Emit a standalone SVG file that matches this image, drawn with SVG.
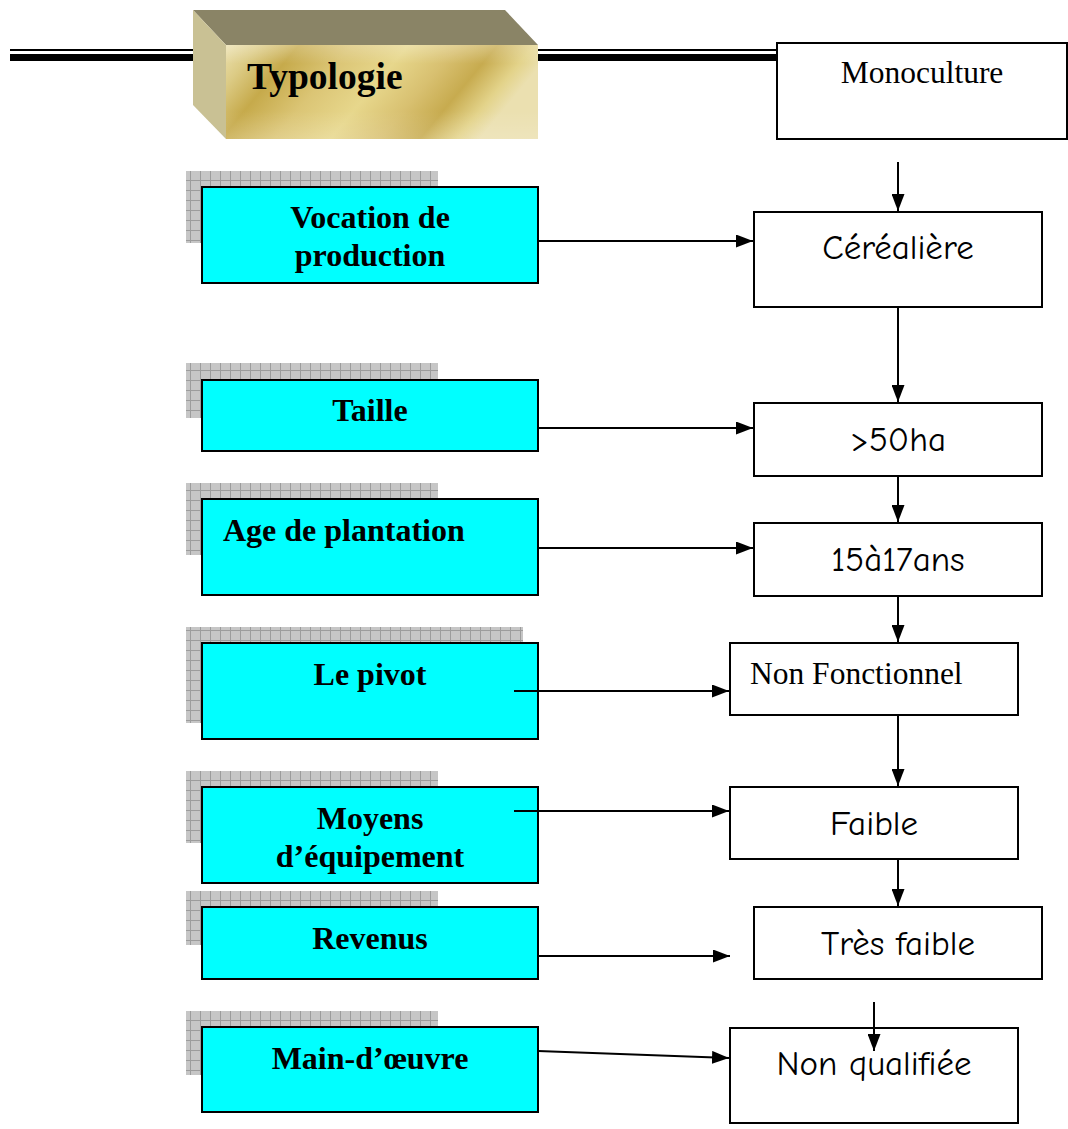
<svg xmlns="http://www.w3.org/2000/svg" width="1068" height="1129" viewBox="0 0 1068 1129">
  <style>
    .box { fill: #00ffff; stroke: #000; stroke-width: 2; }
    .val { fill: #fff; stroke: #000; stroke-width: 2; }
    .shadow { fill: url(#grid); }
    .lbl { font-family: "Liberation Serif", "Times New Roman", serif; font-weight: bold; font-size: 32px; fill: #000; }
    .serif { font-family: "Liberation Serif", "Times New Roman", serif; font-size: 31.5px; fill: #000; }
    .hand { font-family: "Comic Sans MS", "Comic Neue", "DejaVu Sans", sans-serif; font-size: 35px; fill: #000; }
    .link { stroke: #000; stroke-width: 2; fill: none; marker-end: url(#arrow); }
  </style>
  <defs>
    <pattern id="grid" width="10" height="10" patternUnits="userSpaceOnUse">
      <rect width="10" height="10" fill="#c6c6c6"/>
      <path d="M0 0.5H10M0.5 0V10" stroke="#9c9c9c" stroke-width="1"/>
    </pattern>
    <linearGradient id="gold" x1="0" y1="0" x2="1" y2="0.25">
      <stop offset="0" stop-color="#ebe0ad"/>
      <stop offset="0.1" stop-color="#dccb85"/>
      <stop offset="0.22" stop-color="#c6aa4b"/>
      <stop offset="0.38" stop-color="#dbc575"/>
      <stop offset="0.55" stop-color="#e7d78c"/>
      <stop offset="0.7" stop-color="#d8c070"/>
      <stop offset="0.82" stop-color="#c7ab4f"/>
      <stop offset="0.93" stop-color="#e3d38a"/>
      <stop offset="1" stop-color="#ebe0b0"/>
    </linearGradient>
    <linearGradient id="goldV" x1="0" y1="0" x2="0" y2="1">
      <stop offset="0" stop-color="#ffffff" stop-opacity="0.25"/>
      <stop offset="0.2" stop-color="#ffffff" stop-opacity="0"/>
      <stop offset="0.7" stop-color="#ffffff" stop-opacity="0"/>
      <stop offset="1" stop-color="#ffffff" stop-opacity="0.15"/>
    </linearGradient>
    <marker id="arrow" markerWidth="17" markerHeight="13" refX="17" refY="6.5" orient="auto" markerUnits="userSpaceOnUse">
      <path d="M0 0L17 6.5L0 13Z" fill="#000"/>
    </marker>
  </defs>

  <!-- header rule: thin line over thick line -->
  <g id="header-rule">
    <rect x="10" y="49" width="767" height="2" fill="#000"/>
    <rect x="10" y="54" width="767" height="7" fill="#000"/>
  </g>

  <!-- title block drawn as a 3D bar -->
  <g id="typologie">
    <polygon points="193,10 505,10 538,45 226,45" fill="#8a8466"/>
    <polygon points="193,10 226,45 226,139 193,105" fill="#c9c194"/>
    <rect x="226" y="45" width="312" height="94" fill="url(#gold)"/>
    <rect x="226" y="45" width="312" height="94" fill="url(#goldV)"/>
    <text x="247" y="89" font-family="Liberation Serif, Times New Roman, serif" font-weight="bold" font-size="37.5" fill="#000">Typologie</text>
  </g>

  <!-- criteria column -->
  <g id="vocation">
    <rect class="shadow" x="186" y="171" width="252" height="72"/>
    <rect class="box" x="202" y="187" width="336" height="96"/>
    <text class="lbl" x="370" y="228" text-anchor="middle">Vocation de</text>
    <text class="lbl" x="370" y="266" text-anchor="middle">production</text>
  </g>
  <g id="taille">
    <rect class="shadow" x="186" y="363" width="252" height="55"/>
    <rect class="box" x="202" y="380" width="336" height="71"/>
    <text class="lbl" x="370" y="421" text-anchor="middle">Taille</text>
  </g>
  <g id="age">
    <rect class="shadow" x="186" y="483" width="252" height="72"/>
    <rect class="box" x="202" y="499" width="336" height="96"/>
    <text class="lbl" x="223" y="541">Age de plantation</text>
  </g>
  <g id="pivot">
    <rect class="shadow" x="186" y="627" width="337" height="96"/>
    <rect class="box" x="202" y="643" width="336" height="96"/>
    <text class="lbl" x="370" y="685" text-anchor="middle">Le pivot</text>
  </g>
  <g id="moyens">
    <rect class="shadow" x="186" y="771" width="252" height="72"/>
    <rect class="box" x="202" y="787" width="336" height="96"/>
    <text class="lbl" x="370" y="829" text-anchor="middle">Moyens</text>
    <text class="lbl" x="370" y="867" text-anchor="middle">d’équipement</text>
  </g>
  <g id="revenus">
    <rect class="shadow" x="186" y="891" width="252" height="54"/>
    <rect class="box" x="202" y="907" width="336" height="72"/>
    <text class="lbl" x="370" y="949" text-anchor="middle">Revenus</text>
  </g>
  <g id="main-oeuvre">
    <rect class="shadow" x="186" y="1011" width="252" height="64"/>
    <rect class="box" x="202" y="1027" width="336" height="85"/>
    <text class="lbl" x="370" y="1069" text-anchor="middle">Main-d’œuvre</text>
  </g>

  <!-- values column -->
  <g id="monoculture">
    <rect class="val" x="777" y="43" width="290" height="96"/>
    <text class="serif" x="922" y="83" text-anchor="middle">Monoculture</text>
  </g>
  <g id="cerealiere">
    <rect class="val" x="754" y="212" width="288" height="95"/>
    <text class="hand" x="898" y="259" text-anchor="middle">Céréalière</text>
  </g>
  <g id="superficie">
    <rect class="val" x="754" y="403" width="288" height="73"/>
    <text class="hand" x="898" y="451" text-anchor="middle">&gt;50ha</text>
  </g>
  <g id="anciennete">
    <rect class="val" x="754" y="523" width="288" height="73"/>
    <text class="hand" x="898" y="571" text-anchor="middle">15à17ans</text>
  </g>
  <g id="non-fonctionnel">
    <rect class="val" x="730" y="643" width="288" height="72"/>
    <text class="serif" x="750" y="684">Non Fonctionnel</text>
  </g>
  <g id="faible">
    <rect class="val" x="730" y="787" width="288" height="72"/>
    <text class="hand" x="874" y="835" text-anchor="middle">Faible</text>
  </g>
  <g id="tres-faible">
    <rect class="val" x="754" y="907" width="288" height="72"/>
    <text class="hand" x="898" y="955" text-anchor="middle">Très faible</text>
  </g>
  <g id="non-qualifiee">
    <rect class="val" x="730" y="1028" width="288" height="95"/>
    <text class="hand" x="874" y="1075" text-anchor="middle">Non qualifiée</text>
  </g>

  <!-- connectors -->
  <g id="connectors">
    <line class="link" x1="898" y1="162" x2="898" y2="211"/>
    <line class="link" x1="538" y1="241" x2="753" y2="241"/>
    <line class="link" x1="898" y1="307" x2="898" y2="402"/>
    <line class="link" x1="538" y1="428" x2="753" y2="428"/>
    <line class="link" x1="898" y1="476" x2="898" y2="522"/>
    <line class="link" x1="538" y1="548" x2="753" y2="548"/>
    <line class="link" x1="898" y1="596" x2="898" y2="642"/>
    <line class="link" x1="514" y1="691" x2="729" y2="691"/>
    <line class="link" x1="898" y1="715" x2="898" y2="786"/>
    <line class="link" x1="514" y1="811" x2="729" y2="811"/>
    <line class="link" x1="898" y1="859" x2="898" y2="906"/>
    <line class="link" x1="538" y1="956" x2="730" y2="956"/>
    <line class="link" x1="874" y1="1002" x2="874" y2="1051"/>
    <line class="link" x1="538" y1="1051" x2="729" y2="1058"/>
  </g>
</svg>
